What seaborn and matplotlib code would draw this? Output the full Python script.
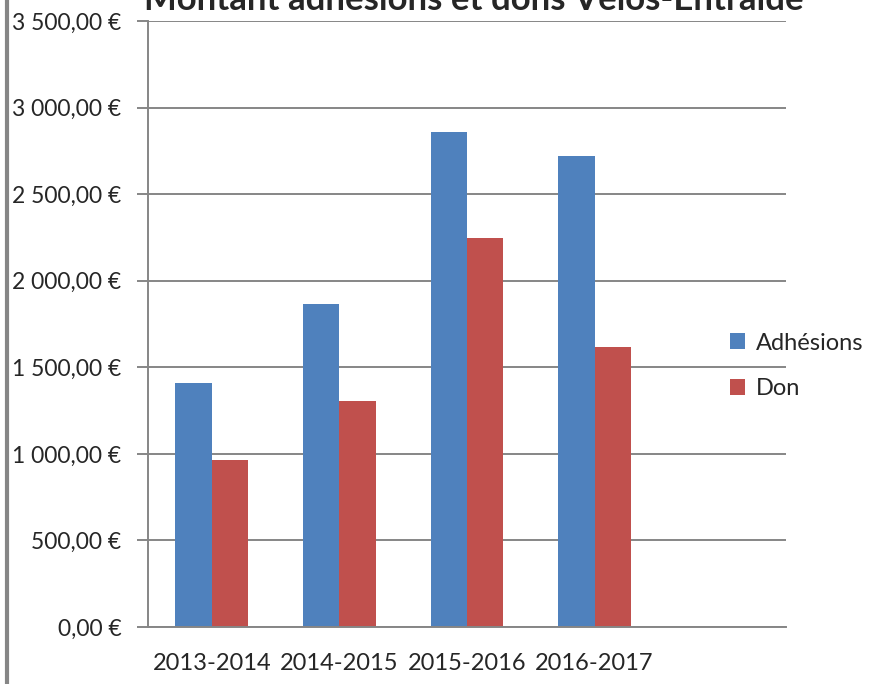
import pandas as pd
import matplotlib.pyplot as plt
import seaborn as sns
from matplotlib.ticker import FuncFormatter, FixedLocator
from matplotlib.lines import Line2D

# -------------------- DATA --------------------
saisons = ["2013-2014", "2014-2015", "2015-2016", "2016-2017"]
adhesions = [1407, 1868, 2860, 2722]
dons = [963, 1303, 2249, 1620]
series = ["Adhésions", "Don"]
couleurs = ["#4F81BD", "#C0504D"]

df = pd.DataFrame({
    "saison": saisons * 2,
    "type": [series[0]] * len(saisons) + [series[1]] * len(saisons),
    "montant": adhesions + dons,
})

# -------------------- PLOT --------------------
sns.set_style("white")
plt.rcParams["font.family"] = ["Lato", "DejaVu Sans"]

fig = plt.figure(figsize=(8.74, 6.84), dpi=100)
ax = fig.add_axes([0.1693, 0.0833, 0.730, 0.886])

ordre = saisons + [" "]
sns.barplot(data=df, x="saison", y="montant", hue="type", order=ordre,
            hue_order=series, palette=couleurs, width=0.57, saturation=1,
            errorbar=None, linewidth=0, ax=ax)

gris = "#868686"
ax.set_ylim(0, 3500)
ax.set_xlim(-0.5, 4.5)
ax.yaxis.set_major_locator(FixedLocator(range(0, 3501, 500)))
ax.yaxis.set_major_formatter(FuncFormatter(
    lambda v, p: f"{v:,.2f} €".replace(",", " ").replace(".", ",")))
ax.yaxis.grid(True, color=gris, linewidth=1.4)
ax.set_axisbelow(True)

ax.set_xticks(range(5))
ax.set_xticklabels(ordre)
ax.set_xticks([i - 0.5 for i in range(6)], minor=True)
ax.tick_params(axis="x", which="major", length=0, pad=19, labelsize=17)
ax.tick_params(axis="x", which="minor", length=7, width=1.4, color=gris, direction="out")
ax.tick_params(axis="y", length=8, width=1.4, color=gris, direction="out",
               pad=11, labelsize=16.5, left=True)

for s in ["top", "right"]:
    ax.spines[s].set_visible(False)
for s in ["left", "bottom"]:
    ax.spines[s].set_color(gris)
    ax.spines[s].set_linewidth(1.4)

ax.set_xlabel("")
ax.set_ylabel("")

leg = ax.legend(loc="center left", bbox_to_anchor=(0.811, 0.465),
                bbox_transform=fig.transFigure, frameon=False, fontsize=17,
                handlelength=0.65, handleheight=0.65, handletextpad=0.45,
                labelspacing=1.05)

fig.text(0.542, 1 - 10 / 684, "Montant adhésions et dons Vélos-Entraide",
         ha="center", va="baseline", fontsize=25, fontweight="bold")

fig.add_artist(Line2D([0.008, 0.008], [0, 1], transform=fig.transFigure,
                      color=gris, linewidth=3))

plt.savefig("out.png", dpi=100)
